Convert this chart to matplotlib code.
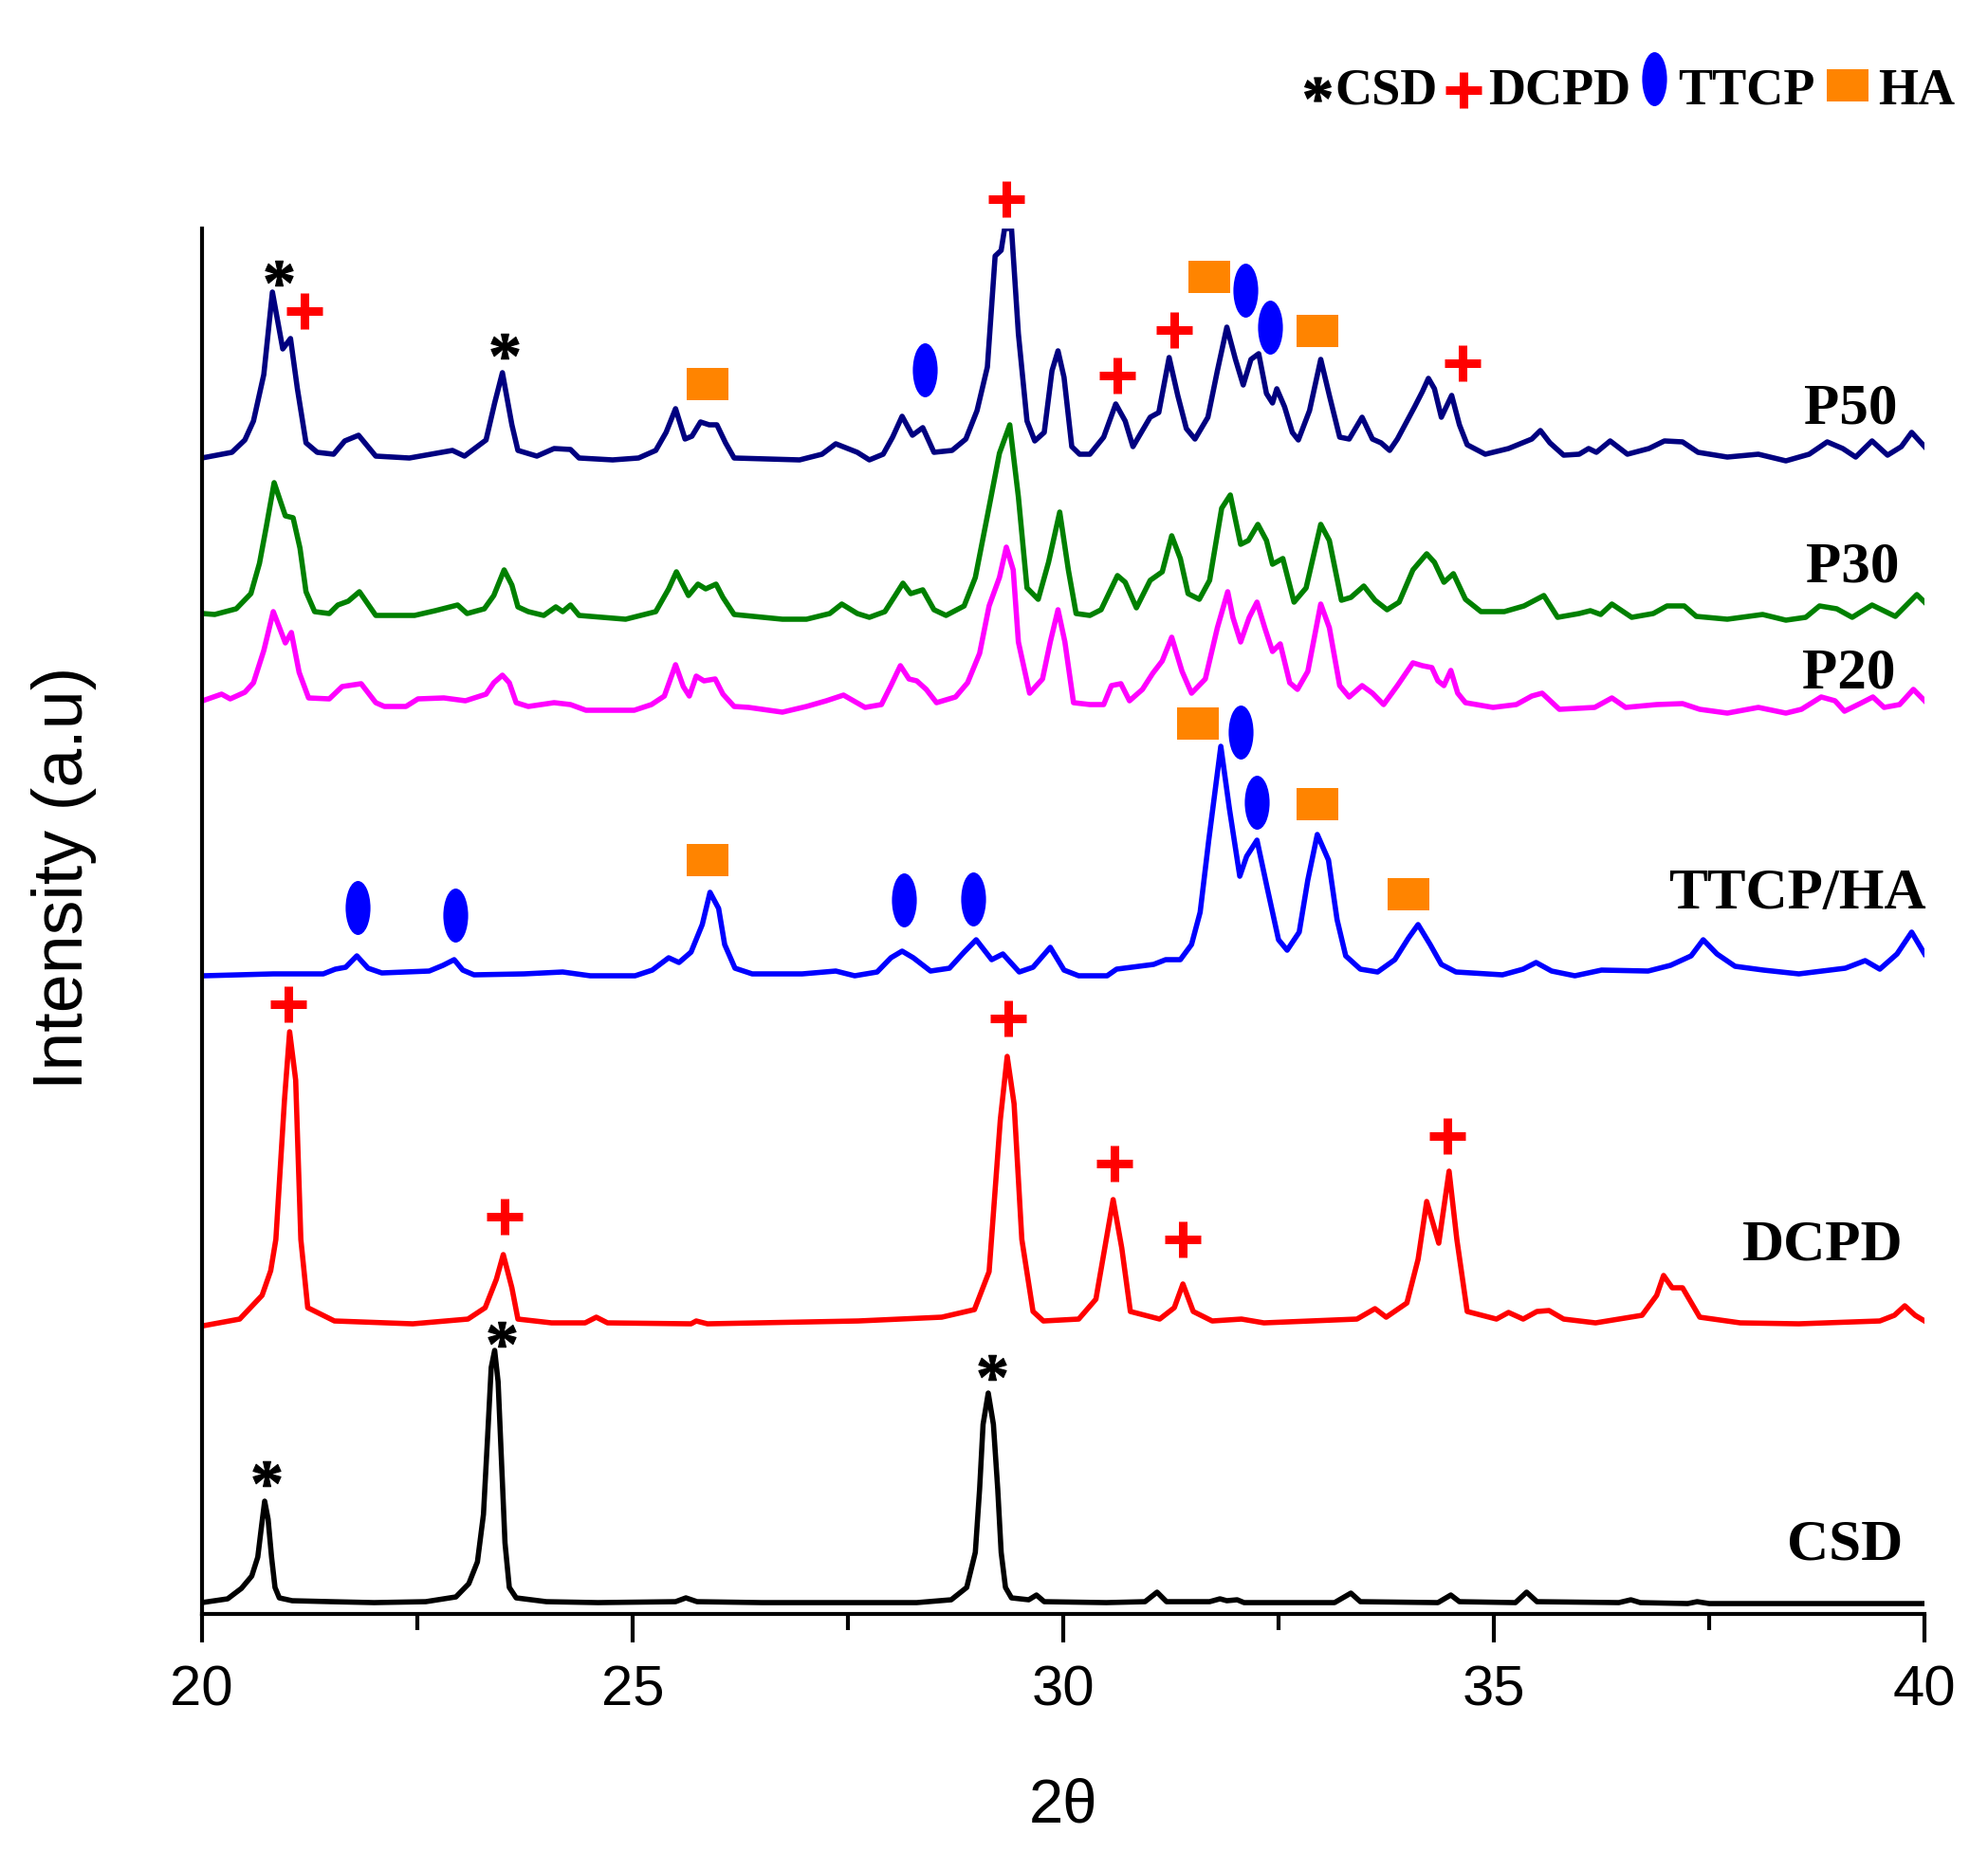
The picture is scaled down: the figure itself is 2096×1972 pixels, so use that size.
import matplotlib
matplotlib.use("Agg")
import matplotlib.pyplot as plt
import numpy as np
from matplotlib.path import Path
from matplotlib.textpath import TextPath
from matplotlib.font_manager import FontProperties
from matplotlib.lines import Line2D

# ---- data (2theta, intensity a.u.) ----
csd_x = [20.00, 20.30, 20.46, 20.58, 20.65, 20.69, 20.73, 20.77, 20.81, 20.85, 20.90, 21.05, 21.5, 22.0, 22.6,
         22.95, 23.10, 23.20, 23.27, 23.32, 23.36, 23.40, 23.44, 23.48, 23.52, 23.57, 23.65, 24.0, 24.6, 25.5,
         25.62, 25.75, 26.5, 27.5, 28.3, 28.70, 28.88, 28.98, 29.03, 29.07, 29.13, 29.19, 29.24, 29.28, 29.33,
         29.40, 29.6, 29.69, 29.78, 30.5, 30.95, 31.09, 31.2, 31.7, 31.82, 31.9, 32.02, 32.1, 33.15, 33.34,
         33.45, 34.35, 34.50, 34.6, 35.25, 35.38, 35.5, 36.45, 36.59, 36.7, 37.25, 37.36, 37.5, 38.5, 39.5, 40.0]
csd_y = [12, 16, 27, 40, 60, 90, 119, 100, 60, 28, 17, 14, 13, 12, 13,
         18, 32, 55, 105, 190, 260, 278, 245, 160, 75, 28, 17, 13, 12, 13,
         17, 13, 12, 12, 12, 15, 28, 65, 132, 200, 233, 200, 132, 65, 28,
         17, 15, 20, 13, 12, 13, 23, 13, 13, 16, 14, 15, 12, 12, 22,
         13, 12, 20, 13, 12, 23, 13, 12, 15, 12, 11, 13, 11, 11, 11, 11]

dcpd_x = [20.02, 20.44, 20.70, 20.80, 20.86, 20.96, 21.02, 21.09, 21.15, 21.23, 21.54, 22.45, 23.09, 23.29,
          23.42, 23.50, 23.60, 23.67, 24.06, 24.45, 24.58, 24.71, 25.68, 25.74, 25.87, 27.62, 28.59, 28.97,
          29.14, 29.27, 29.35, 29.43, 29.52, 29.65, 29.77, 30.18, 30.38, 30.50, 30.58, 30.68, 30.78, 31.12,
          31.29, 31.39, 31.51, 31.73, 32.07, 32.33, 33.41, 33.62, 33.75, 33.99, 34.12, 34.22, 34.36, 34.48,
          34.57, 34.69, 35.03, 35.17, 35.34, 35.50, 35.64, 35.81, 36.18, 36.72, 36.89, 36.97, 37.07, 37.19,
          37.39, 37.86, 38.54, 39.48, 39.65, 39.77, 39.89, 40.00]
dcpd_y = [304, 311, 336, 362, 395, 542, 614, 563, 395, 323, 309, 306, 311, 323,
          353, 379, 344, 311, 307, 307, 313, 307, 306, 309, 306, 309, 313, 321,
          361, 521, 588, 538, 395, 319, 309, 311, 332, 395, 437, 386, 319, 311,
          323, 348, 319, 309, 311, 307, 311, 322, 313, 328, 374, 435, 391, 467,
          395, 319, 311, 318, 311, 319, 320, 311, 307, 315, 336, 357, 344, 344,
          313, 307, 306, 309, 315, 325, 315, 309]

ttcp_x = [20.02, 20.83, 21.41, 21.55, 21.67, 21.80, 21.93, 22.09, 22.64, 22.80, 22.93, 23.03, 23.16, 23.74,
          24.19, 24.51, 25.03, 25.23, 25.42, 25.54, 25.68, 25.81, 25.90, 26.00, 26.07, 26.19, 26.39, 26.97,
          27.36, 27.58, 27.84, 28.00, 28.13, 28.26, 28.46, 28.68, 28.85, 28.99, 29.17, 29.30, 29.49, 29.65,
          29.85, 30.01, 30.18, 30.51, 30.62, 31.05, 31.19, 31.36, 31.49, 31.59, 31.69, 31.83, 31.93, 32.05,
          32.13, 32.25, 32.37, 32.50, 32.60, 32.74, 32.84, 32.95, 33.08, 33.18, 33.28, 33.45, 33.65, 33.85,
          34.01, 34.12, 34.26, 34.39, 34.56, 35.10, 35.34, 35.49, 35.67, 35.94, 36.25, 36.79, 37.05, 37.29,
          37.43, 37.59, 37.80, 38.13, 38.54, 39.08, 39.31, 39.48, 39.68, 39.85, 40.00]
ttcp_y = [673, 675, 675, 680, 682, 694, 681, 676, 678, 684, 690, 679, 674, 675,
          677, 673, 673, 679, 692, 687, 698, 727, 761, 744, 706, 681, 675, 675,
          678, 673, 677, 692, 699, 692, 678, 681, 698, 711, 690, 696, 677, 682,
          703, 679, 673, 673, 680, 685, 690, 690, 706, 740, 816, 915, 849, 778,
          799, 816, 765, 711, 700, 719, 774, 822, 795, 732, 694, 680, 677, 690,
          713, 727, 706, 685, 677, 674, 680, 687, 678, 673, 679, 678, 684, 694,
          711, 696, 683, 679, 675, 681, 689, 680, 696, 719, 696]

p20_x = [20.01, 20.23, 20.33, 20.50, 20.60, 20.72, 20.83, 20.89, 20.97, 21.04, 21.13, 21.24, 21.48, 21.63,
         21.85, 22.02, 22.12, 22.37, 22.51, 22.81, 23.06, 23.30, 23.39, 23.49, 23.57, 23.65, 23.79, 24.09,
         24.28, 24.46, 25.02, 25.22, 25.37, 25.50, 25.59, 25.66, 25.74, 25.83, 25.96, 26.05, 26.18, 26.35,
         26.74, 27.02, 27.25, 27.45, 27.70, 27.89, 28.00, 28.11, 28.21, 28.30, 28.41, 28.53, 28.75, 28.89,
         29.03, 29.14, 29.26, 29.34, 29.42, 29.48, 29.61, 29.76, 29.85, 29.94, 30.02, 30.12, 30.31, 30.47,
         30.56, 30.67, 30.77, 30.92, 31.04, 31.15, 31.26, 31.38, 31.49, 31.65, 31.79, 31.91, 31.97, 32.06,
         32.16, 32.25, 32.34, 32.43, 32.52, 32.63, 32.72, 32.84, 32.99, 33.09, 33.21, 33.32, 33.47, 33.59,
         33.72, 33.88, 34.06, 34.17, 34.28, 34.35, 34.42, 34.50, 34.58, 34.67, 34.99, 35.26, 35.44, 35.56,
         35.76, 36.17, 36.37, 36.53, 36.89, 37.19, 37.39, 37.71, 38.07, 38.39, 38.57, 38.80, 38.96, 39.07,
         39.25, 39.40, 39.53, 39.71, 39.87, 40.00]
p20_y = [963, 970, 965, 972, 982, 1016, 1057, 1043, 1024, 1035, 993, 966, 965, 978,
         981, 961, 957, 957, 965, 966, 963, 970, 982, 990, 982, 961, 957, 961,
         959, 953, 953, 959, 968, 1001, 978, 968, 989, 984, 986, 970, 957, 956,
         951, 957, 963, 969, 956, 959, 979, 1000, 986, 984, 975, 961, 967, 982,
         1013, 1063, 1093, 1125, 1101, 1025, 971, 986, 1025, 1059, 1025, 961, 959, 959,
         979, 981, 963, 975, 992, 1005, 1030, 994, 971, 986, 1040, 1078, 1051, 1025,
         1051, 1067, 1040, 1015, 1023, 982, 975, 994, 1065, 1040, 979, 967, 979, 971,
         959, 979, 1003, 1000, 998, 984, 979, 995, 971, 961, 956, 959, 968, 971,
         954, 956, 966, 956, 959, 960, 954, 950, 956, 950, 954, 967, 963, 952,
         960, 967, 956, 959, 975, 963]

p30_x = [20.01, 20.15, 20.40, 20.57, 20.67, 20.75, 20.84, 20.97, 21.06, 21.14, 21.21, 21.31, 21.48, 21.58,
         21.70, 21.83, 22.02, 22.47, 22.71, 22.97, 23.08, 23.28, 23.39, 23.51, 23.60, 23.67, 23.79, 23.97,
         24.11, 24.19, 24.28, 24.38, 24.92, 25.27, 25.42, 25.51, 25.65, 25.76, 25.85, 25.97, 26.05, 26.18,
         26.74, 27.02, 27.29, 27.43, 27.61, 27.75, 27.93, 28.05, 28.14, 28.23, 28.37, 28.50, 28.64, 28.85,
         28.98, 29.12, 29.26, 29.38, 29.48, 29.58, 29.71, 29.83, 29.96, 30.06, 30.15, 30.31, 30.44, 30.63,
         30.72, 30.85, 31.01, 31.15, 31.26, 31.36, 31.45, 31.58, 31.70, 31.84, 31.94, 32.06, 32.15, 32.26,
         32.36, 32.43, 32.55, 32.68, 32.82, 32.99, 33.09, 33.23, 33.34, 33.49, 33.62, 33.76, 33.90, 34.06,
         34.22, 34.31, 34.42, 34.53, 34.67, 34.85, 35.12, 35.35, 35.58, 35.74, 35.99, 36.12, 36.24, 36.37,
         36.60, 36.85, 37.01, 37.21, 37.35, 37.71, 38.12, 38.39, 38.62, 38.78, 38.98, 39.16, 39.39, 39.66,
         39.91, 40.00]
p30_y = [1055, 1054, 1060, 1076, 1108, 1147, 1193, 1158, 1156, 1124, 1078, 1057, 1055, 1064,
         1068, 1078, 1053, 1053, 1058, 1064, 1055, 1060, 1074, 1101, 1085, 1062, 1057, 1053,
         1062, 1057, 1064, 1053, 1049, 1057, 1081, 1099, 1074, 1086, 1081, 1086, 1072, 1054,
         1049, 1049, 1055, 1065, 1055, 1051, 1057, 1074, 1087, 1076, 1080, 1059, 1053, 1063,
         1093, 1158, 1224, 1254, 1178, 1082, 1070, 1109, 1162, 1101, 1055, 1053, 1059, 1095,
         1088, 1061, 1090, 1099, 1137, 1113, 1076, 1070, 1090, 1166, 1180, 1128, 1132, 1149,
         1132, 1107, 1113, 1067, 1082, 1149, 1132, 1069, 1072, 1084, 1069, 1059, 1067, 1101,
         1118, 1109, 1088, 1097, 1070, 1057, 1057, 1063, 1074, 1051, 1055, 1058, 1054, 1065,
         1051, 1055, 1063, 1063, 1052, 1049, 1054, 1048, 1051, 1063, 1060, 1051, 1064, 1052,
         1075, 1067]

p50_x = [20.00, 20.35, 20.50, 20.60, 20.72, 20.82, 20.94, 21.03, 21.11, 21.21, 21.34, 21.53, 21.66, 21.82,
         22.02, 22.41, 22.91, 23.05, 23.30, 23.40, 23.49, 23.60, 23.67, 23.89, 24.09, 24.28, 24.38, 24.77,
         25.07, 25.27, 25.39, 25.50, 25.61, 25.69, 25.79, 25.89, 25.98, 26.08, 26.18, 26.94, 27.20, 27.36,
         27.61, 27.75, 27.91, 28.02, 28.13, 28.25, 28.37, 28.50, 28.71, 28.87, 29.00, 29.12, 29.21, 29.28,
         29.32, 29.40, 29.48, 29.58, 29.67, 29.78, 29.87, 29.94, 30.01, 30.10, 30.19, 30.31, 30.47, 30.61,
         30.72, 30.81, 31.01, 31.11, 31.23, 31.33, 31.43, 31.53, 31.68, 31.79, 31.90, 32.00, 32.09, 32.18,
         32.27, 32.36, 32.43, 32.48, 32.57, 32.66, 32.73, 32.86, 32.99, 33.09, 33.21, 33.32, 33.47, 33.59,
         33.69, 33.79, 33.88, 34.08, 34.17, 34.24, 34.31, 34.39, 34.51, 34.60, 34.69, 34.90, 35.17, 35.44,
         35.54, 35.65, 35.81, 35.99, 36.10, 36.19, 36.35, 36.55, 36.80, 36.98, 37.19, 37.37, 37.71, 38.07,
         38.39, 38.66, 38.87, 39.05, 39.20, 39.39, 39.57, 39.73, 39.85, 40.00]
p50_y = [1219, 1225, 1238, 1258, 1307, 1394, 1334, 1345, 1292, 1235, 1225, 1223, 1237, 1243,
         1221, 1219, 1227, 1221, 1238, 1277, 1309, 1254, 1227, 1221, 1229, 1228, 1219, 1217,
         1219, 1227, 1246, 1271, 1239, 1242, 1257, 1254, 1254, 1235, 1219, 1217, 1223, 1234,
         1225, 1217, 1223, 1241, 1263, 1243, 1251, 1225, 1227, 1239, 1269, 1315, 1432, 1438,
         1461, 1461, 1350, 1258, 1237, 1246, 1311, 1332, 1304, 1231, 1223, 1223, 1241, 1276,
         1258, 1231, 1262, 1267, 1325, 1285, 1250, 1239, 1262, 1311, 1357, 1323, 1296, 1323,
         1329, 1287, 1277, 1292, 1273, 1246, 1238, 1269, 1323, 1285, 1241, 1239, 1262, 1239,
         1235, 1227, 1239, 1273, 1289, 1303, 1292, 1262, 1285, 1254, 1233, 1223, 1229, 1239,
         1248, 1235, 1222, 1223, 1229, 1225, 1237, 1223, 1229, 1237, 1236, 1225, 1220, 1223,
         1216, 1223, 1236, 1229, 1220, 1237, 1222, 1231, 1246, 1231]

# phase markers (2theta, intensity)
star_x = [20.90, 23.52, 20.75, 23.48, 29.17]
star_y = [1414, 1337, 148, 295, 260]
plus_x = [21.19, 29.34, 30.63, 31.29, 34.64, 21.01, 23.52, 29.36, 30.59, 31.39, 34.46]
plus_y = [1374, 1492, 1306, 1354, 1319, 643, 419, 628, 475, 395, 504]
ellipse_x = [28.39, 32.11, 32.40, 21.81, 22.94, 28.15, 28.95, 32.06, 32.25]
ellipse_y = [1312, 1396, 1357, 745, 737, 753, 754, 930, 856]
square_x = [25.87, 31.70, 32.95, 25.87, 31.56, 32.95, 34.01]
square_y = [1297, 1410, 1353, 795, 939, 854, 759]

series = [
    ("CSD", csd_x, csd_y, "black", 39.75, 58),
    ("DCPD", dcpd_x, dcpd_y, "#FF0000", 39.75, 374),
    ("TTCP/HA", ttcp_x, ttcp_y, "#0000FF", 40.02, 744),
    ("P20", p20_x, p20_y, "#FF00FF", 39.66, 976),
    ("P30", p30_x, p30_y, "#008000", 39.71, 1088),
    ("P50", p50_x, p50_y, "#000080", 39.68, 1255),
]

orange = "#FF8400"

# marker shapes
tp = TextPath((0, 0), "*", size=1, prop=FontProperties(family="Liberation Serif", weight="bold"))
v = tp.vertices.copy()
codes = tp.codes
real = codes != Path.CLOSEPOLY
ctr = (v[real].min(0) + v[real].max(0)) / 2
v = v - ctr
v[~real] = 0.0
star_path = Path(v, codes)
circ = Path.unit_circle()
ellipse_path = Path(circ.vertices * np.array([0.46, 1.0]), circ.codes)
square_path = Path([[-1, -0.77], [1, -0.77], [1, 0.77], [-1, 0.77], [-1, -0.77]],
                   [Path.MOVETO, Path.LINETO, Path.LINETO, Path.LINETO, Path.CLOSEPOLY])

serif = "Liberation Serif"
sans = "Liberation Sans"

fig = plt.figure(figsize=(20.96, 19.72), dpi=100)
ax = fig.add_axes([0.1015, 0.1369, 0.8666, 0.7409])

for name, xs, ys, col, lx, ly in series:
    ax.plot(xs, ys, color=col, lw=4, solid_joinstyle="round")
    ax.text(lx, ly, name, ha="right", va="baseline", fontsize=44,
            fontweight="bold", family=serif)

ax.plot(star_x, star_y, ls="none", marker=star_path, ms=21, color="black", mew=0.8,
        clip_on=False)
ax.plot(plus_x, plus_y, ls="none", marker="+", ms=27, mew=6.5, color="#FF0000", clip_on=False)
ax.plot(ellipse_x, ellipse_y, ls="none", marker=ellipse_path, ms=41, color="#0000FF",
        mew=0, clip_on=False)
ax.plot(square_x, square_y, ls="none", marker=square_path, ms=31, color=orange,
        mew=0, clip_on=False)

ax.set_xlim(20, 40)
ax.set_ylim(0, 1461)
ax.spines["top"].set_visible(False)
ax.spines["right"].set_visible(False)
ax.spines["left"].set_linewidth(3)
ax.spines["bottom"].set_linewidth(3)
ax.set_yticks([])
ax.set_xticks([20, 25, 30, 35, 40])
ax.set_xticks([22.5, 27.5, 32.5, 37.5], minor=True)
ax.tick_params(axis="x", which="major", direction="out", length=21.6, width=3,
               labelsize=43, pad=17)
ax.tick_params(axis="x", which="minor", direction="out", length=12, width=3)
for lab in ax.get_xticklabels():
    lab.set_family(sans)

fig.text(1121 / 2096, 1 - 1905 / 1972, "2θ", ha="center", va="center",
         fontsize=47, family=sans)
fig.text(68 / 2096, 1 - 926 / 1972, "Intensity (a.u)", ha="center", va="center",
         rotation=90, fontsize=53, family=sans)


# legend row at the top right
def fx(px):
    return px / 2096


def fy(py):
    return 1 - py / 1972


fig.add_artist(Line2D([fx(1389)], [fy(94)], ls="none", marker=star_path, ms=20, mew=0.8,
                      color="black", transform=fig.transFigure))
fig.add_artist(Line2D([fx(1543)], [fy(95)], ls="none", marker="+", ms=27, mew=6.5,
                      color="#FF0000", transform=fig.transFigure))
fig.add_artist(Line2D([fx(1744)], [fy(83)], ls="none", marker=ellipse_path, ms=41,
                      mew=0, color="#0000FF", transform=fig.transFigure))
fig.add_artist(Line2D([fx(1948)], [fy(90)], ls="none", marker=square_path, ms=31,
                      mew=0, color=orange, transform=fig.transFigure))
for px, txt in [(1407, "CSD"), (1569, "DCPD"), (1769, "TTCP"), (1980, "HA")]:
    fig.text(fx(px), fy(110), txt, ha="left", va="baseline", fontsize=39,
             fontweight="bold", family=serif)

fig.savefig("out.png", dpi=100)
